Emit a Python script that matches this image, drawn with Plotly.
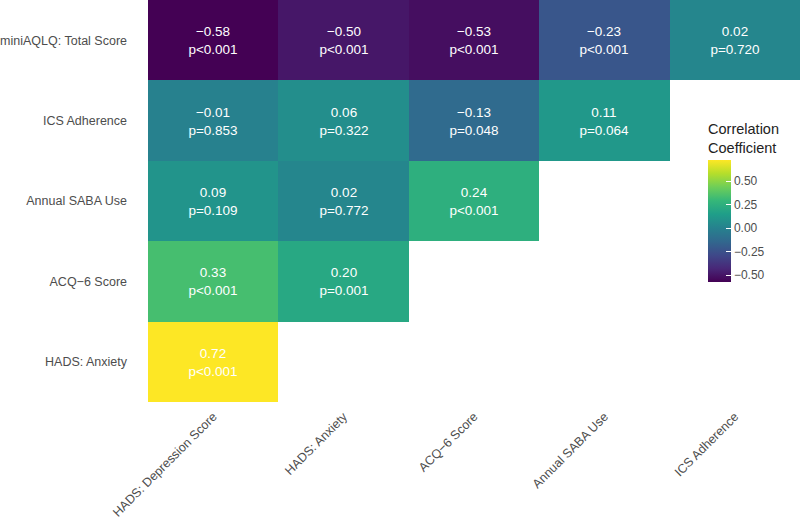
import plotly.graph_objects as go

x_labels = ["HADS: Depression Score", "HADS: Anxiety", "ACQ\u22126 Score", "Annual SABA Use", "ICS Adherence"]
y_labels = ["miniAQLQ: Total Score", "ICS Adherence", "Annual SABA Use", "ACQ\u22126 Score", "HADS: Anxiety"]

r_values = [
    [-0.58, -0.50, -0.53, -0.23, 0.02],
    [-0.01, 0.06, -0.13, 0.11, None],
    [0.09, 0.02, 0.24, None, None],
    [0.33, 0.20, None, None, None],
    [0.72, None, None, None, None],
]
p_labels = [
    ["p<0.001", "p<0.001", "p<0.001", "p<0.001", "p=0.720"],
    ["p=0.853", "p=0.322", "p=0.048", "p=0.064", None],
    ["p=0.109", "p=0.772", "p<0.001", None, None],
    ["p<0.001", "p=0.001", None, None, None],
    ["p<0.001", None, None, None, None],
]

cb_ticks = [-0.5, -0.25, 0.0, 0.25, 0.5]
cb_ticktext = ["\u22120.50", "\u22120.25", "0.00", "0.25", "0.50"]

text = []
for row_r, row_p in zip(r_values, p_labels):
    trow = []
    for r, p in zip(row_r, row_p):
        if r is None:
            trow.append("")
        else:
            trow.append(f"{r:.2f}".replace("-", "\u2212") + "<br>" + p)
    text.append(trow)

fig = go.Figure(go.Heatmap(
    x=x_labels, y=y_labels, z=r_values,
    text=text, texttemplate="%{text}",
    textfont=dict(color="white", size=13.5, family="Liberation Sans"),
    colorscale="Viridis", zmin=-0.58, zmax=0.72,
    xgap=0, ygap=0, hoverongaps=False,
    colorbar=dict(
        title=dict(text="Correlation<br>Coefficient", side="top",
                   font=dict(size=14.5, color="#222222", family="Liberation Sans")),
        x=0.859, xanchor="left", y=0.70, yanchor="top",
        thickness=23, lenmode="pixels", len=162, ypad=0, xpad=0,
        tickvals=cb_ticks, ticktext=cb_ticktext,
        ticks="inside", tickcolor="white", ticklen=5,
        tickfont=dict(size=12, color="#4d4d4d", family="Liberation Sans"),
        outlinewidth=0,
    ),
))

fig.update_layout(
    width=800, height=527,
    margin=dict(l=148, r=0, t=0, b=125),
    plot_bgcolor="white", paper_bgcolor="white",
    font=dict(family="Liberation Sans"),
)
fig.update_xaxes(showgrid=False, zeroline=False, tickangle=-45, automargin=False,
                 tickfont=dict(size=12.5, color="#4d4d4d"), ticklabelstandoff=4)
fig.update_yaxes(showgrid=False, zeroline=False, autorange="reversed", automargin=False,
                 tickfont=dict(size=12.5, color="#4d4d4d"), ticklabelstandoff=20)

fig.write_html("out.html", config={"displayModeBar": False},
               post_script="document.body.style.margin='0';")
